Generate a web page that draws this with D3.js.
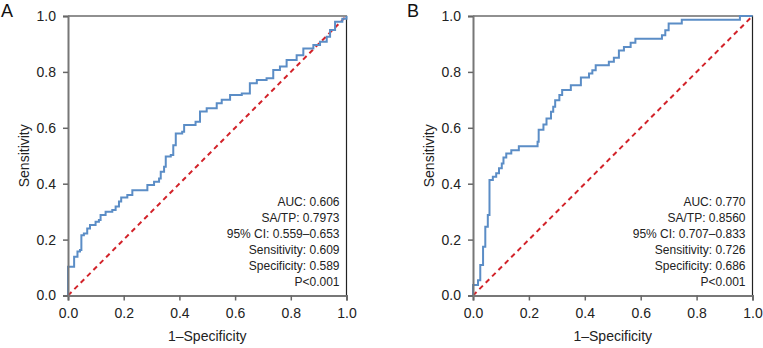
<!DOCTYPE html>
<html lang="en">
<head>
  <meta charset="UTF-8" />
  <title>ROC curves A and B</title>
  <script src="https://cdn.jsdelivr.net/npm/d3@7"></script>
  <style>
    html, body { margin: 0; padding: 0; background: #fff; }
    svg { display: block; font-family: "Liberation Sans", Arial, Helvetica, sans-serif; }
  </style>
</head>
<body>
<script>
// ROC data: (1-specificity, sensitivity) step corners
const fprA = [0, 0, 0.022, 0.034, 0.043, 0.048, 0.057, 0.069, 0.079, 0.099, 0.111, 0.117, 0.135, 0.159, 0.171, 0.183, 0.191, 0.213, 0.231, 0.285, 0.309, 0.327, 0.333, 0.345, 0.351, 0.369, 0.378, 0.387, 0.410, 0.417, 0.458, 0.474, 0.498, 0.534, 0.552, 0.582, 0.624, 0.653, 0.678, 0.713, 0.737, 0.761, 0.785, 0.821, 0.845, 0.881, 0.905, 0.929, 0.941, 0.959, 0.985, 1];
const tprA = [0, 0.103, 0.139, 0.157, 0.163, 0.216, 0.222, 0.240, 0.252, 0.264, 0.270, 0.288, 0.300, 0.306, 0.318, 0.336, 0.351, 0.360, 0.377, 0.395, 0.407, 0.419, 0.443, 0.461, 0.497, 0.503, 0.538, 0.580, 0.586, 0.610, 0.622, 0.658, 0.670, 0.688, 0.700, 0.717, 0.723, 0.759, 0.771, 0.777, 0.807, 0.819, 0.843, 0.860, 0.884, 0.896, 0.908, 0.926, 0.950, 0.979, 0.990, 1];

const fprB = [0, 0, 0.018, 0.026, 0.036, 0.044, 0.053, 0.059, 0.071, 0.083, 0.093, 0.103, 0.109, 0.119, 0.137, 0.164, 0.231, 0.235, 0.252, 0.263, 0.279, 0.287, 0.294, 0.309, 0.319, 0.350, 0.386, 0.415, 0.427, 0.439, 0.486, 0.504, 0.522, 0.540, 0.564, 0.581, 0.676, 0.688, 0.700, 0.747, 0.955, 1];
const tprB = [0, 0.0375, 0.055, 0.109, 0.174, 0.246, 0.288, 0.413, 0.425, 0.437, 0.455, 0.472, 0.494, 0.508, 0.520, 0.534, 0.550, 0.593, 0.612, 0.633, 0.657, 0.675, 0.699, 0.717, 0.735, 0.752, 0.780, 0.794, 0.806, 0.824, 0.836, 0.851, 0.877, 0.889, 0.904, 0.919, 0.931, 0.949, 0.973, 0.987, 1.0, 1];

const tickValues = [0, 0.2, 0.4, 0.6, 0.8, 1.0];
const statsA = ["AUC: 0.606", "SA/TP: 0.7973", "95% CI: 0.559\u20130.653", "Sensitivity: 0.609", "Specificity: 0.589", "P<0.001"];
const statsB = ["AUC: 0.770", "SA/TP: 0.8560", "95% CI: 0.707\u20130.833", "Sensitivity: 0.726", "Specificity: 0.686", "P<0.001"];

const width = 763, height = 348;
const svg = d3.select("body").append("svg")
  .attr("width", width)
  .attr("height", height);

function drawPanel(letter, fpr, tpr, stats, left, right, letterX) {
  const top = 16, bottom = 295.5;
  const x = d3.scaleLinear().domain([0, 1]).range([left, right]);
  const y = d3.scaleLinear().domain([0, 1]).range([bottom, top]);
  const g = svg.append("g");

  // top and right frame lines (thin, black)
  g.append("path")
    .attr("d", `M${left},${top}H${right}V${bottom}`)
    .attr("fill", "none")
    .attr("stroke", "#222")
    .attr("stroke-width", 1.2);

  // chance diagonal
  g.append("line")
    .attr("x1", x(0)).attr("y1", y(0))
    .attr("x2", x(1)).attr("y2", y(1))
    .attr("stroke", "#d2232a")
    .attr("stroke-width", 2)
    .attr("stroke-dasharray", "5,4");

  // ROC curve
  const pts = fpr.map((v, i) => [v, tpr[i]]);
  const line = d3.line()
    .x(d => x(d[0]))
    .y(d => y(d[1]))
    .curve(d3.curveStepAfter);
  g.append("path")
    .attr("d", line(pts))
    .attr("fill", "none")
    .attr("stroke", "#5b8dc6")
    .attr("stroke-width", 2);

  // axes
  const fmt = d3.format(".1f");
  const xAxis = g.append("g")
    .attr("transform", `translate(0,${bottom})`)
    .call(d3.axisBottom(x).tickValues(tickValues).tickFormat(fmt).tickSize(5).tickPadding(8));
  const yAxis = g.append("g")
    .attr("transform", `translate(${left},0)`)
    .call(d3.axisLeft(y).tickValues(tickValues).tickFormat(fmt).tickSize(5).tickPadding(7));
  [xAxis, yAxis].forEach(a => {
    a.select(".domain").attr("stroke", "#777").attr("stroke-width", 2);
    a.selectAll(".tick line").attr("stroke", "#666").attr("stroke-width", 1.5);
    a.selectAll(".tick text")
      .attr("fill", "#222")
      .style("font-size", "14px")
      .style("font-family", "\"Liberation Sans\", Arial, sans-serif");
  });

  // axis titles
  g.append("text")
    .attr("x", (left + right) / 2)
    .attr("y", 341)
    .attr("text-anchor", "middle")
    .attr("fill", "#222")
    .style("font-size", "14px")
    .text("1\u2013Specificity");
  g.append("text")
    .attr("transform", `translate(${left - 39},${(top + bottom) / 2}) rotate(-90)`)
    .attr("text-anchor", "middle")
    .attr("fill", "#222")
    .style("font-size", "14px")
    .text("Sensitivity");

  // statistics block
  g.append("g").selectAll("text")
    .data(stats)
    .join("text")
    .attr("x", right - 7)
    .attr("y", (d, i) => 206 + i * 16)
    .attr("text-anchor", "end")
    .attr("fill", "#222")
    .style("font-size", "12px")
    .text(d => d);

  // panel letter
  g.append("text")
    .attr("x", letterX)
    .attr("y", 17)
    .attr("fill", "#111")
    .style("font-size", "18px")
    .text(letter);
}

drawPanel("A", fprA, tprA, statsA, 68, 346.5, 1);
drawPanel("B", fprB, tprB, statsB, 473, 752.5, 407);
</script>
</body>
</html>
